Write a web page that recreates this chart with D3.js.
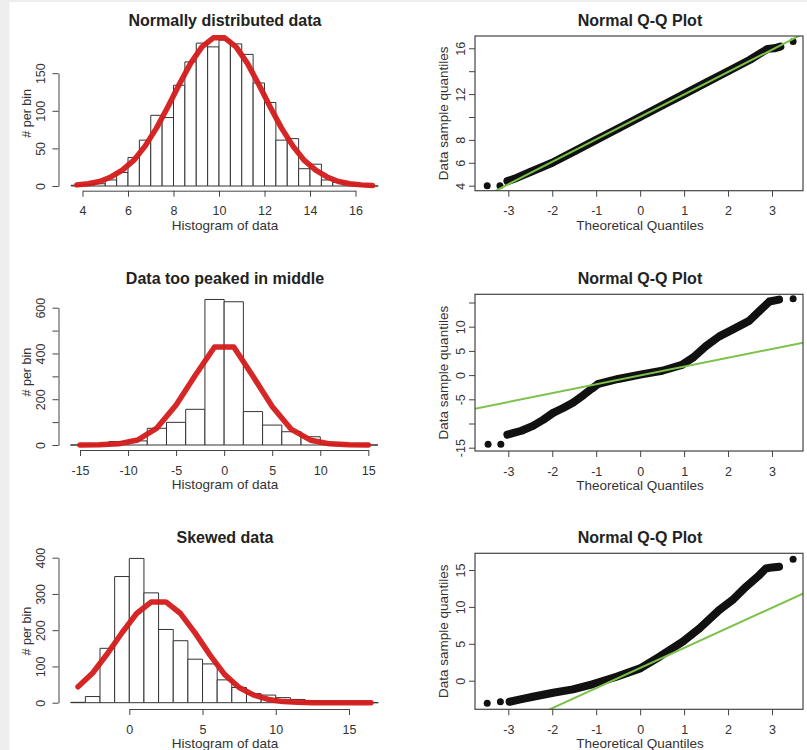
<!DOCTYPE html>
<html>
<head>
<meta charset="utf-8">
<script src="https://cdn.jsdelivr.net/npm/d3@7"></script>
<style>
  body { margin: 0; background: #eeeeee; }
  svg { display: block; font-family: "Liberation Sans", Arial, sans-serif; }
  .tick text { font-size: 12.5px; fill: #333; }
  .domain, .tick line { stroke: #444; }
  .title { font-size: 16px; font-weight: bold; fill: #222; text-anchor: middle; }
  .axis-label { font-size: 13.5px; fill: #333; text-anchor: middle; }
  .axis-label.bin { font-size: 12.5px; }
</style>
</head>
<body>
<svg width="807" height="750"></svg>
<script>
// ---- data ----

// Histogram 1: normally distributed data
const hist1Breaks = [3.5, 4, 4.5, 5, 5.5, 6, 6.5, 7, 7.5, 8, 8.5, 9, 9.5, 10, 10.5, 11, 11.5, 12, 12.5, 13, 13.5, 14, 14.5, 15, 15.5, 16, 16.5, 17];
const hist1Counts = [1, 2, 3, 8, 18, 38, 61, 94, 91, 134, 165, 190, 185, 194, 189, 175, 137, 111, 61, 63, 23, 29, 8, 5, 3, 1, 0];
const curve1X = [3.75, 4.25, 4.75, 5.25, 5.75, 6.25, 6.75, 7.25, 7.75, 8.25, 8.75, 9.25, 9.75, 10.25, 10.75, 11.25, 11.75, 12.25, 12.75, 13.25, 13.75, 14.25, 14.75, 15.25, 15.75, 16.25, 16.75];
const curve1Y = [1.5, 3, 6, 12, 21, 34, 53, 77, 105, 135, 163, 185, 197, 197, 185, 163, 135, 105, 77, 53, 34, 21, 12, 6, 3, 1.5, 0.6];

// Histogram 2: data too peaked in middle
const hist2Breaks = [-16, -14, -12, -10, -8, -6, -4, -2, 0, 2, 4, 6, 8, 10, 12, 14, 16];
const hist2Counts = [0, 1, 15, 18, 73, 99, 156, 636, 626, 146, 87, 58, 36, 2, 1, 0];
const curve2X = [-15, -13, -11, -9, -7, -5, -3, -1, 1, 3, 5, 7, 9, 11, 13, 15];
const curve2Y = [0, 1, 5, 22, 74, 175, 305, 428, 428, 300, 168, 68, 21, 5, 1, 0];

// Histogram 3: skewed data
const hist3Breaks = [-4, -3, -2, -1, 0, 1, 2, 3, 4, 5, 6, 7, 8, 9, 10, 11, 12, 13, 14, 15, 16, 17];
const hist3Counts = [1, 17, 150, 348, 398, 303, 202, 171, 120, 107, 63, 42, 25, 21, 14, 9, 5, 2, 1, 1, 0];
const curve3X = [-3.5, -2.5, -1.5, -0.5, 0.5, 1.5, 2.5, 3.5, 4.5, 5.5, 6.5, 7.5, 8.5, 9.5, 10.5, 11.5, 12.5, 13.5, 14.5, 15.5, 16.5];
const curve3Y = [44, 82, 135, 193, 246, 278, 278, 246, 192, 132, 78, 42, 21, 9, 3, 1, 0, 0, 0, 0, 0];

// Q-Q plot 1
const qq1BandX = [-3.02, -2.8, -2.5, -2.0, -1.5, -1.0, -0.5, 0, 0.5, 1.0, 1.5, 2.0, 2.5, 2.75, 2.9, 3.05, 3.19];
const qq1BandY = [4.4, 4.7, 5.2, 6.0, 7.0, 8.0, 9.0, 10.0, 11.0, 12.0, 13.0, 14.0, 15.0, 15.6, 15.95, 16.0, 16.15];
const qq1TailX = [-3.48, -3.19, 3.48];
const qq1TailY = [4.0, 4.0, 16.6];
const qq1LineX = [-3.8, 3.8];
const qq1LineY = [2.55, 17.45];

// Q-Q plot 2
const qq2BandX = [-3.02, -2.7, -2.44, -2.2, -1.98, -1.75, -1.53, -1.3, -1.1, -0.95, -0.5, 0, 0.5, 0.95, 1.2, 1.5, 1.8, 2.1, 2.48, 2.71, 2.94, 3.16];
const qq2BandY = [-12.3, -11.5, -10.5, -9.2, -7.8, -6.8, -5.7, -4.2, -2.8, -1.8, -0.8, 0.1, 0.9, 2.1, 3.6, 6.0, 8.0, 9.4, 11.2, 13.2, 15.2, 15.6];
const qq2TailX = [-3.46, -3.17, 3.48];
const qq2TailY = [-14.3, -14.3, 15.8];
const qq2LineX = [-3.8, 3.8];
const qq2LineY = [-7.03, 6.87];

// Q-Q plot 3
const qq3BandX = [-2.97, -2.7, -2.44, -1.98, -1.53, -1.07, -0.54, 0, 0.44, 0.97, 1.35, 1.8, 2.1, 2.41, 2.71, 2.86, 3.0, 3.16];
const qq3BandY = [-2.85, -2.5, -2.17, -1.63, -1.17, -0.45, 0.54, 1.67, 3.25, 5.28, 7.09, 9.58, 10.93, 12.74, 14.3, 15.2, 15.35, 15.45];
const qq3TailX = [-3.48, -3.18, 3.48];
const qq3TailY = [-3.07, -2.85, 16.44];
const qq3LineX = [-3.8, 3.8];
const qq3LineY = [-8.62, 12.06];

// ticks and labels
const h1XTicks = [4, 6, 8, 10, 12, 14, 16];
const h1YTicks = [0, 50, 100, 150];
const h1YLabels = [0, 50, 100, 150];
const h2XTicks = [-15, -10, -5, 0, 5, 10, 15];
const h2YTicks = [0, 100, 200, 300, 400, 500, 600];
const h2YLabels = [0, 200, 400, 600];
const h3XTicks = [0, 5, 10, 15];
const h3YTicks = [0, 100, 200, 300, 400];
const h3YLabels = [0, 100, 200, 300, 400];
const qqXTicks = [-3, -2, -1, 0, 1, 2, 3];
const q1YTicks = [4, 6, 8, 10, 12, 14, 16];
const q1YLabels = [4, 6, 8, 12, 16];
const q2YTicks = [-15, -10, -5, 0, 5, 10, 15];
const q2YLabels = [-15, -5, 0, 5, 10];
const q3YTicks = [0, 5, 10, 15];
const q3YLabels = [0, 5, 10, 15];

const histTitles = ["Normally distributed data", "Data too peaked in middle", "Skewed data"];
const qqTitle = "Normal Q-Q Plot";
const histXLabel = "Histogram of data";
const histYLabel = "# per bin";
const qqXLabel = "Theoretical Quantiles";
const qqYLabel = "Data sample quantiles";

// ---- drawing ----
const svg = d3.select("svg");
svg.append("rect").attr("x", 9.5).attr("y", 2).attr("width", 807).attr("height", 750).attr("fill", "#fff");

const RED = "#d41a1a", GREEN = "#7cc24a";

function xAxisAt(g, scale, ticks, y, keepDomain) {
  const ax = g.append("g")
    .attr("transform", `translate(0,${y})`)
    .call(d3.axisBottom(scale).tickValues(ticks).tickSize(6).tickSizeOuter(0).tickFormat(d => String(d)));
  if (!keepDomain) ax.select(".domain").remove();
  ax.selectAll(".tick text").attr("y", 24.5).attr("dy", null);
  return ax;
}

function yAxisAt(g, scale, ticks, labels, x, off, keepDomain) {
  const ax = g.append("g")
    .attr("transform", `translate(${x},0)`)
    .call(d3.axisLeft(scale).tickValues(ticks).tickSize(6).tickSizeOuter(0)
      .tickFormat(d => labels.includes(d) ? String(d) : ""));
  if (!keepDomain) ax.select(".domain").remove();
  ax.selectAll(".tick text")
    .attr("x", null).attr("dy", null)
    .attr("text-anchor", "middle")
    .attr("transform", `translate(${-off},0) rotate(-90)`);
  return ax;
}

function drawHist(p) {
  const g = svg.append("g");
  const x = d3.scaleLinear().domain(p.xDomain).range(p.xRange);
  const y = d3.scaleLinear().domain(p.yDomain).range(p.yRange);

  const bins = p.counts.map((c, i) => ({ x0: p.breaks[i], x1: p.breaks[i + 1], n: c }));
  g.selectAll("path.bar").data(bins).join("path")
    .attr("class", "bar")
    .attr("d", d => `M${x(d.x0)},${y(0)}V${y(d.n)}H${x(d.x1)}V${y(0)}Z`)
    .attr("fill", "#fff").attr("stroke", "#333").attr("stroke-width", 1);

  const line = d3.line().x(d => x(d[0])).y(d => y(d[1]));
  g.append("path")
    .datum(d3.zip(p.curveX, p.curveY))
    .attr("d", line)
    .attr("fill", "none").attr("stroke", RED).attr("stroke-width", 5.5)
    .attr("stroke-linejoin", "round").attr("stroke-linecap", "round").attr("opacity", 0.95);

  xAxisAt(g, x, p.xTicks, p.axisY, true);
  yAxisAt(g, y, p.yTicks, p.yLabels, 58.5, 14, true);

  g.append("text").attr("class", "title").attr("x", 225).attr("y", p.top - 10.5).text(p.title);
  g.append("text").attr("class", "axis-label").attr("x", 225).attr("y", p.axisY + 39).text(histXLabel);
  g.append("text").attr("class", "axis-label bin")
    .attr("transform", `translate(31,${(p.top + p.axisY) / 2}) rotate(-90)`).text(histYLabel);
}

function drawQQ(p, idx) {
  const g = svg.append("g");
  const box = { x0: 475, x1: 803, y0: p.top, y1: p.bottom };
  const x = d3.scaleLinear().domain([-3, 3]).range([508.3, 772]);
  const y = d3.scaleLinear().domain(p.yDomain).range(p.yRange);

  g.append("clipPath").attr("id", "clip" + idx)
    .append("rect").attr("x", box.x0).attr("y", box.y0)
    .attr("width", box.x1 - box.x0).attr("height", box.y1 - box.y0);
  const inner = g.append("g").attr("clip-path", `url(#clip${idx})`);

  const line = d3.line().x(d => x(d[0])).y(d => y(d[1]));
  const band = d3.zip(p.bandX, p.bandY);
  inner.append("path").datum(band).attr("d", line)
    .attr("fill", "none").attr("stroke", "#111").attr("stroke-width", 8)
    .attr("stroke-linejoin", "round").attr("stroke-linecap", "round");
  inner.selectAll("circle").data(band.concat(d3.zip(p.tailX, p.tailY))).join("circle")
    .attr("cx", d => x(d[0])).attr("cy", d => y(d[1])).attr("r", 3.5).attr("fill", "#111");

  inner.append("path").datum(d3.zip(p.lineX, p.lineY)).attr("d", line)
    .attr("fill", "none").attr("stroke", GREEN).attr("stroke-width", 2);

  g.append("rect").attr("x", box.x0).attr("y", box.y0)
    .attr("width", box.x1 - box.x0).attr("height", box.y1 - box.y0)
    .attr("fill", "none").attr("stroke", "#444").attr("stroke-width", 1.2);

  xAxisAt(g, x, qqXTicks, box.y1, false);
  yAxisAt(g, y, p.yTicks, p.yLabels, box.x0, 10, false);

  g.append("text").attr("class", "title").attr("x", 640).attr("y", box.y0 - 10.5).text(qqTitle);
  g.append("text").attr("class", "axis-label").attr("x", 640).attr("y", box.y1 + 39).text(qqXLabel);
  g.append("text").attr("class", "axis-label")
    .attr("transform", `translate(447.5,${(box.y0 + box.y1) / 2}) rotate(-90)`).text(qqYLabel);
}

drawHist({
  title: histTitles[0], breaks: hist1Breaks, counts: hist1Counts, curveX: curve1X, curveY: curve1Y,
  xDomain: [4, 16], xRange: [82.5, 355.5], yDomain: [0, 150], yRange: [186, 73.2],
  xTicks: h1XTicks, yTicks: h1YTicks, yLabels: h1YLabels, axisY: 190.7, top: 36
});
drawHist({
  title: histTitles[1], breaks: hist2Breaks, counts: hist2Counts, curveX: curve2X, curveY: curve2Y,
  xDomain: [-15, 15], xRange: [80, 368.3], yDomain: [0, 600], yRange: [445, 307.7],
  xTicks: h2XTicks, yTicks: h2YTicks, yLabels: h2YLabels, axisY: 450, top: 294.3
});
drawHist({
  title: histTitles[2], breaks: hist3Breaks, counts: hist3Counts, curveX: curve3X, curveY: curve3Y,
  xDomain: [0, 15], xRange: [129.3, 349], yDomain: [0, 400], yRange: [702.7, 557.7],
  xTicks: h3XTicks, yTicks: h3YTicks, yLabels: h3YLabels, axisY: 709, top: 553.3
});

drawQQ({
  top: 36, bottom: 190.7, yDomain: [4, 16], yRange: [185.7, 48.3],
  yTicks: q1YTicks, yLabels: q1YLabels,
  bandX: qq1BandX, bandY: qq1BandY, tailX: qq1TailX, tailY: qq1TailY, lineX: qq1LineX, lineY: qq1LineY
}, 1);
drawQQ({
  top: 294.3, bottom: 451, yDomain: [-15, 10], yRange: [447.7, 326.7],
  yTicks: q2YTicks, yLabels: q2YLabels,
  bandX: qq2BandX, bandY: qq2BandY, tailX: qq2TailX, tailY: qq2TailY, lineX: qq2LineX, lineY: qq2LineY
}, 2);
drawQQ({
  top: 553.3, bottom: 709.3, yDomain: [0, 15], yRange: [680.7, 570],
  yTicks: q3YTicks, yLabels: q3YLabels,
  bandX: qq3BandX, bandY: qq3BandY, tailX: qq3TailX, tailY: qq3TailY, lineX: qq3LineX, lineY: qq3LineY
}, 3);
</script>
</body>
</html>
